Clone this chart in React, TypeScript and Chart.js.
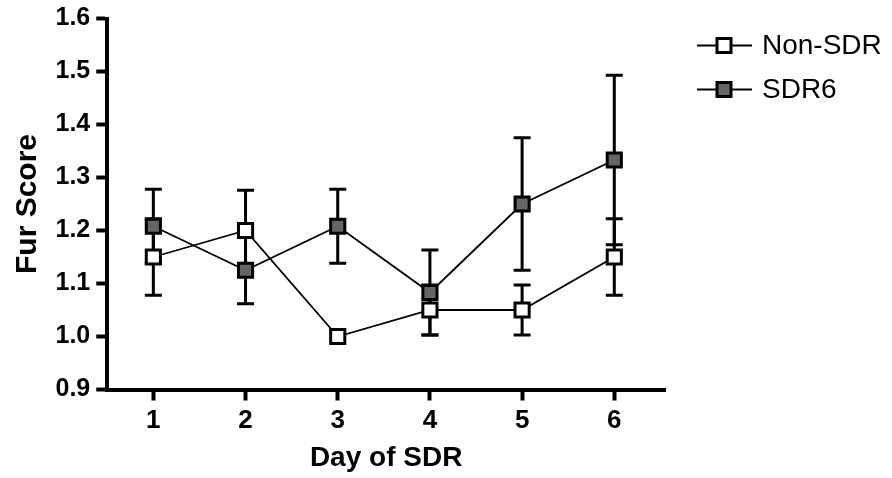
import React, { useEffect, useRef } from 'react';
import { Chart, registerables } from 'chart.js';

Chart.register(...registerables);

const days = [1, 2, 3, 4, 5, 6];
const yTicks = [0.9, 1.0, 1.1, 1.2, 1.3, 1.4, 1.5, 1.6];
const seriesNames = ['Non-SDR', 'SDR6'];
const nonSdrMean = [1.15, 1.2, 1.0, 1.05, 1.05, 1.15];
const nonSdrErr = [0.072, 0.076, 0, 0.047, 0.047, 0.072];
const sdr6Mean = [1.208, 1.125, 1.208, 1.083, 1.25, 1.333];
const sdr6Err = [0.07, 0.063, 0.07, 0.08, 0.125, 0.16];

const FONT = '"Liberation Sans", Arial, Helvetica, sans-serif';

const errorBarPlugin = {
  id: 'errorBars',
  beforeDatasetsDraw(chart: any) {
    const { ctx } = chart;
    const y = chart.scales.y;
    ctx.save();
    ctx.strokeStyle = '#000';
    ctx.lineWidth = 3;
    ctx.lineCap = 'butt';
    chart.data.datasets.forEach((ds: any, i: number) => {
      const meta = chart.getDatasetMeta(i);
      meta.data.forEach((pt: any, j: number) => {
        const e = ds.errors[j];
        if (!e) return;
        const v = ds.data[j].y;
        const top = y.getPixelForValue(v + e);
        const bot = y.getPixelForValue(v - e);
        const half = 8.5;
        ctx.beginPath();
        ctx.moveTo(pt.x, top);
        ctx.lineTo(pt.x, bot);
        ctx.moveTo(pt.x - half, top);
        ctx.lineTo(pt.x + half, top);
        ctx.moveTo(pt.x - half, bot);
        ctx.lineTo(pt.x + half, bot);
        ctx.stroke();
      });
    });
    ctx.restore();
  },
};

const sideLegendPlugin = {
  id: 'sideLegend',
  afterDraw(chart: any) {
    const { ctx, chartArea } = chart;
    const x0 = chartArea.right + 32;
    chart.data.datasets.forEach((ds: any, i: number) => {
      const cy = chartArea.top + 27 + i * 44;
      ctx.save();
      ctx.strokeStyle = '#000';
      ctx.lineWidth = 1.8;
      ctx.beginPath();
      ctx.moveTo(x0, cy);
      ctx.lineTo(x0 + 55, cy);
      ctx.stroke();
      ctx.fillStyle = ds.pointBackgroundColor;
      ctx.lineWidth = 3;
      ctx.beginPath();
      ctx.rect(x0 + 27 - 7, cy - 7, 14, 14);
      ctx.fill();
      ctx.stroke();
      ctx.fillStyle = '#000';
      ctx.font = `28px ${FONT}`;
      ctx.textBaseline = 'middle';
      ctx.textAlign = 'left';
      ctx.fillText(ds.label, x0 + 65, cy + 1);
      ctx.restore();
    });
  },
};

export default function App() {
  const ref = useRef<HTMLCanvasElement | null>(null);

  useEffect(() => {
    document.body.style.margin = '0';
    if (!ref.current) return;
    const mk = (name: string, mean: number[], err: number[], fill: string) => ({
      label: name,
      data: days.map((d, i) => ({ x: d, y: mean[i] })),
      errors: err,
      borderColor: '#000',
      borderWidth: 1.8,
      tension: 0,
      pointStyle: 'rect',
      pointRadius: 10,
      pointHoverRadius: 10,
      pointBorderWidth: 3,
      pointBorderColor: '#000',
      pointBackgroundColor: fill,
      fill: false,
    });
    const chart = new Chart(ref.current, {
      type: 'line',
      data: {
        datasets: [
          mk(seriesNames[0], nonSdrMean, nonSdrErr, '#ffffff'),
          mk(seriesNames[1], sdr6Mean, sdr6Err, '#666666'),
        ] as any,
      },
      options: {
        responsive: false,
        animation: false,
        layout: { padding: { left: 9.5, top: 18, right: 227, bottom: 2.7 } },
        plugins: { legend: { display: false }, tooltip: { enabled: false } },
        scales: {
          x: {
            type: 'linear',
            min: 0.5,
            max: 6.55,
            afterBuildTicks: (axis: any) => {
              axis.ticks = days.map((d) => ({ value: d }));
            },
            grid: { drawOnChartArea: false, tickLength: 11, tickWidth: 4, tickColor: '#000' },
            border: { color: '#000', width: 4 },
            ticks: {
              color: '#000',
              font: { family: FONT, size: 26, weight: 'bold' },
              padding: 5,
              callback: (v: any) => String(v),
            },
            title: {
              display: true,
              text: 'Day of SDR',
              color: '#000',
              font: { family: FONT, size: 28, weight: 'bold' },
              padding: { top: 0, bottom: 0 },
            },
          },
          y: {
            type: 'linear',
            min: 0.9,
            max: 1.6,
            afterBuildTicks: (axis: any) => {
              axis.ticks = yTicks.map((v) => ({ value: v }));
            },
            grid: { drawOnChartArea: false, tickLength: 11, tickWidth: 4, tickColor: '#000' },
            border: { color: '#000', width: 4 },
            ticks: {
              color: '#000',
              font: { family: FONT, size: 25, weight: 'bold', lineHeight: 1 },
              padding: 6,
              callback: (v: any) => Number(v).toFixed(1),
            },
            title: {
              display: true,
              text: 'Fur Score',
              color: '#000',
              font: { family: FONT, size: 30, weight: 'bold' },
              padding: { top: 0, bottom: 4 },
            },
          },
        },
      } as any,
      plugins: [errorBarPlugin, sideLegendPlugin],
    });
    return () => chart.destroy();
  }, []);

  return (
    <div style={{ width: 892, height: 478, background: '#fff' }}>
      <canvas ref={ref} width={892} height={478} />
    </div>
  );
}
